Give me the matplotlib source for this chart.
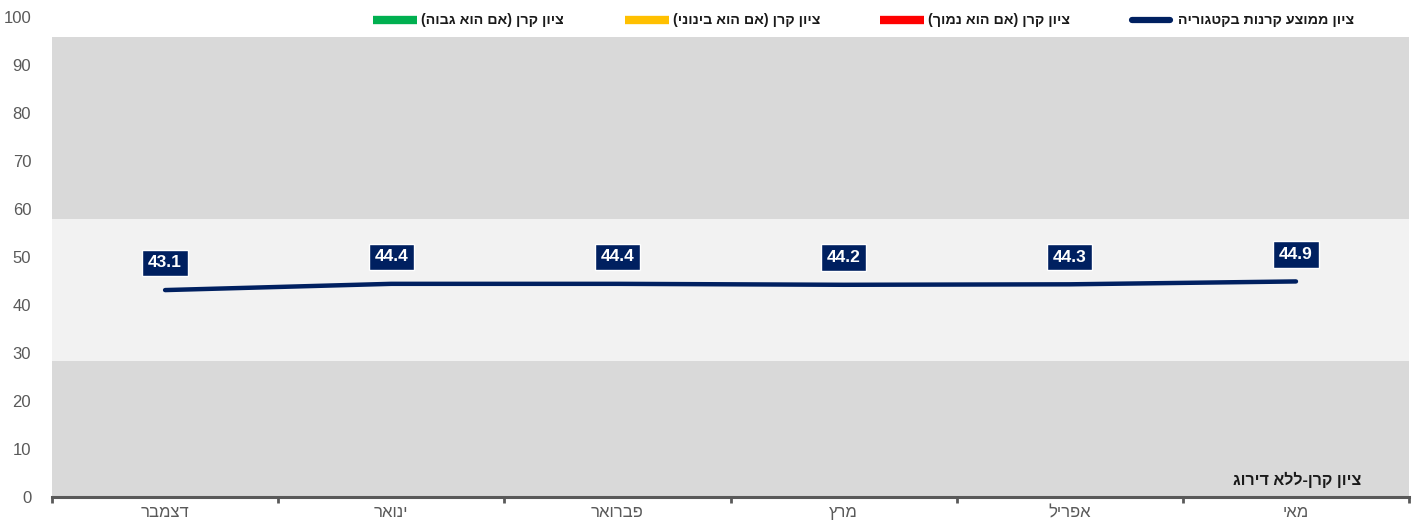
import numpy as np
import matplotlib.pyplot as plt

plt.rcParams['font.family'] = ['Liberation Sans', 'DejaVu Sans']

months = ['דצמבר', 'ינואר', 'פברואר', 'מרץ', 'אפריל', 'מאי']
avg_score = [43.1, 44.4, 44.4, 44.2, 44.3, 44.9]
band_low = 28.3
band_high = 57.9
band_top = 95.8

legend_names = ['ציון קרן (אם הוא גבוה)', 'ציון קרן (אם הוא בינוני)',
                'ציון קרן (אם הוא נמוך)', 'ציון ממוצע קרנות בקטגוריה']
legend_colors = ['#00B050', '#FFC000', '#FF0000', '#002060']
note = 'ציון קרן-ללא דירוג'


def rtl(s):
    # matplotlib has no bidi: flip the string and mirror brackets
    swap = {'(': ')', ')': '('}
    return ''.join(swap.get(c, c) for c in reversed(s))


fig = plt.figure(figsize=(14.17, 5.28), dpi=100)
ax = fig.add_axes([0.0367, 0.0587, 0.9577, 0.9093])

x = np.arange(len(months))
ax.set_xlim(-0.5, len(months) - 0.5)
ax.set_ylim(0, 100)

ax.axhspan(0, band_low, color='#D9D9D9', zorder=0, lw=0)
ax.axhspan(band_low, band_high, color='#F2F2F2', zorder=0, lw=0)
ax.axhspan(band_high, band_top, color='#D9D9D9', zorder=0, lw=0)

ax.plot(x, avg_score, color='#002060', lw=3.2, solid_capstyle='round', zorder=3)
for xi, v in zip(x, avg_score):
    ax.annotate(f'{v:.1f}', (xi, v), xytext=(0, 19.5), textcoords='offset points',
                ha='center', va='center', color='white', fontsize=12.5, fontweight='bold',
                bbox=dict(boxstyle='square,pad=0.33', fc='#002060', ec='white', lw=1),
                zorder=4)

for s in ['top', 'right', 'left']:
    ax.spines[s].set_visible(False)
ax.spines['bottom'].set_color('#595959')
ax.spines['bottom'].set_linewidth(2.2)

ax.set_yticks(np.arange(0, 101, 10))
ax.tick_params(axis='y', length=0, labelsize=12, labelcolor='#595959', pad=15)
ax.set_xticks(np.arange(-0.5, len(months), 1))
ax.set_xticklabels([])
ax.tick_params(axis='x', which='major', length=4, width=2, color='#595959')
ax.set_xticks(x, minor=True)
ax.set_xticklabels([rtl(m) for m in months], minor=True)
ax.tick_params(axis='x', which='minor', length=0, labelsize=12, labelcolor='#595959', pad=6)

ax.text(0.965, 0.035, rtl(note), transform=ax.transAxes, ha='right', va='center',
        fontsize=11.5, fontweight='bold', color='#1a1a1a')

# legend across the top: colored line, then text
leg_x = [0.263, 0.441, 0.621, 0.797]
for lx, name, col in zip(leg_x, legend_names, legend_colors):
    y = 0.962
    if col == '#002060':
        fig.add_artist(plt.Line2D([lx + 0.002, lx + 0.029], [y, y], color=col, lw=4.5,
                                  solid_capstyle='round', transform=fig.transFigure))
    else:
        fig.add_artist(plt.Line2D([lx, lx + 0.031], [y, y], color=col, lw=6,
                                  solid_capstyle='butt', transform=fig.transFigure))
    fig.text(lx + 0.034, y, rtl(name), ha='left', va='center', fontsize=10.3,
             fontweight='bold', color='#1a1a1a')

fig.savefig('out.png', dpi=100)
